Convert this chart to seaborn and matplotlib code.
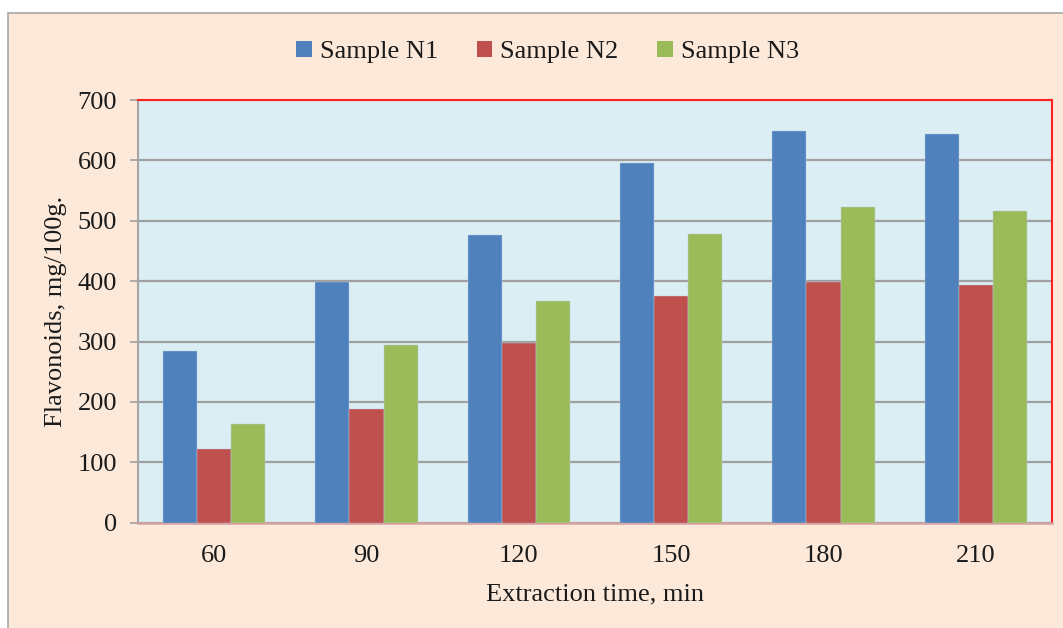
import matplotlib
matplotlib.use("Agg")
import matplotlib.pyplot as plt
import seaborn as sns
import pandas as pd
from matplotlib.patches import Rectangle

# data
times = ["60", "90", "120", "150", "180", "210"]
n1 = [285, 399, 476, 595, 648, 644]
n2 = [122, 189, 297, 376, 398, 393]
n3 = [163, 294, 367, 478, 522, 517]
series = ["Sample N1", "Sample N2", "Sample N3"]
colors = ["#4F81BD", "#C0504D", "#9BBB59"]

df = pd.DataFrame({
    "time": times * 3,
    "value": n1 + n2 + n3,
    "sample": [series[0]] * 6 + [series[1]] * 6 + [series[2]] * 6,
})

sns.set_style("white")
plt.rcParams["font.family"] = ["Liberation Serif", "DejaVu Serif"]

fig = plt.figure(figsize=(10.63, 6.28), dpi=100, facecolor="white")
# outer chart frame (left/top edges visible)
fig.patches.append(Rectangle((8 / 1063, -0.05), 1.1, 1 - 13 / 628 + 0.05,
                             transform=fig.transFigure, facecolor="#FDE9D9",
                             edgecolor="#A6A6A6", linewidth=1.2, zorder=-10))
ax = fig.add_axes([138 / 1063, 1 - 522.7 / 628, (1052 - 138) / 1063, (522.7 - 100) / 628])
ax.set_zorder(5)
ax.set_facecolor("#DBEEF4")

sns.barplot(data=df, x="time", y="value", hue="sample", palette=colors,
            width=0.67, gap=0, saturation=1, ax=ax, zorder=3,
            edgecolor="#B8CCE4", linewidth=0.3)

ax.set_ylim(0, 700)
ax.set_yticks(range(0, 701, 100))
ax.set_xlim(-0.5, 5.5)
ax.yaxis.grid(True, color="#A0A0A0", linewidth=1.6, zorder=1)
ax.set_axisbelow(True)

ax.tick_params(axis="y", length=6, width=1.2, color="#A0A0A0", direction="out",
               labelsize=19, pad=9, left=True)
ax.tick_params(axis="x", length=0, labelsize=19, pad=16)
for t in ax.get_xticklabels() + ax.get_yticklabels():
    t.set_color("#1a1a1a")

ax.spines["top"].set_color("#FF2020")
ax.spines["right"].set_color("#FF2020")
ax.spines["top"].set_linewidth(1.5)
ax.spines["right"].set_linewidth(1.5)
ax.spines["left"].set_color("#A6A6A6")
ax.spines["left"].set_linewidth(1.5)
ax.spines["bottom"].set_color("#D4A0A0")
ax.spines["bottom"].set_linewidth(1.8)

ax.set_xlabel("Extraction time, min", fontsize=19, color="#1a1a1a", labelpad=12)
ax.set_ylabel("Flavonoids, mg/100g.", fontsize=19, color="#1a1a1a", labelpad=8)

ax.legend_.remove()
handles = [Rectangle((0, 0), 1, 1, facecolor=c, edgecolor="none") for c in colors]
fig.legend(handles, series, loc="center", bbox_to_anchor=(0.515, 1 - 52 / 628),
           ncol=3, frameon=False, fontsize=19, handlelength=0.6, handleheight=0.6,
           handletextpad=0.3, columnspacing=1.45, labelcolor="#1a1a1a")

fig.savefig("out.png", dpi=100, facecolor=fig.get_facecolor())
